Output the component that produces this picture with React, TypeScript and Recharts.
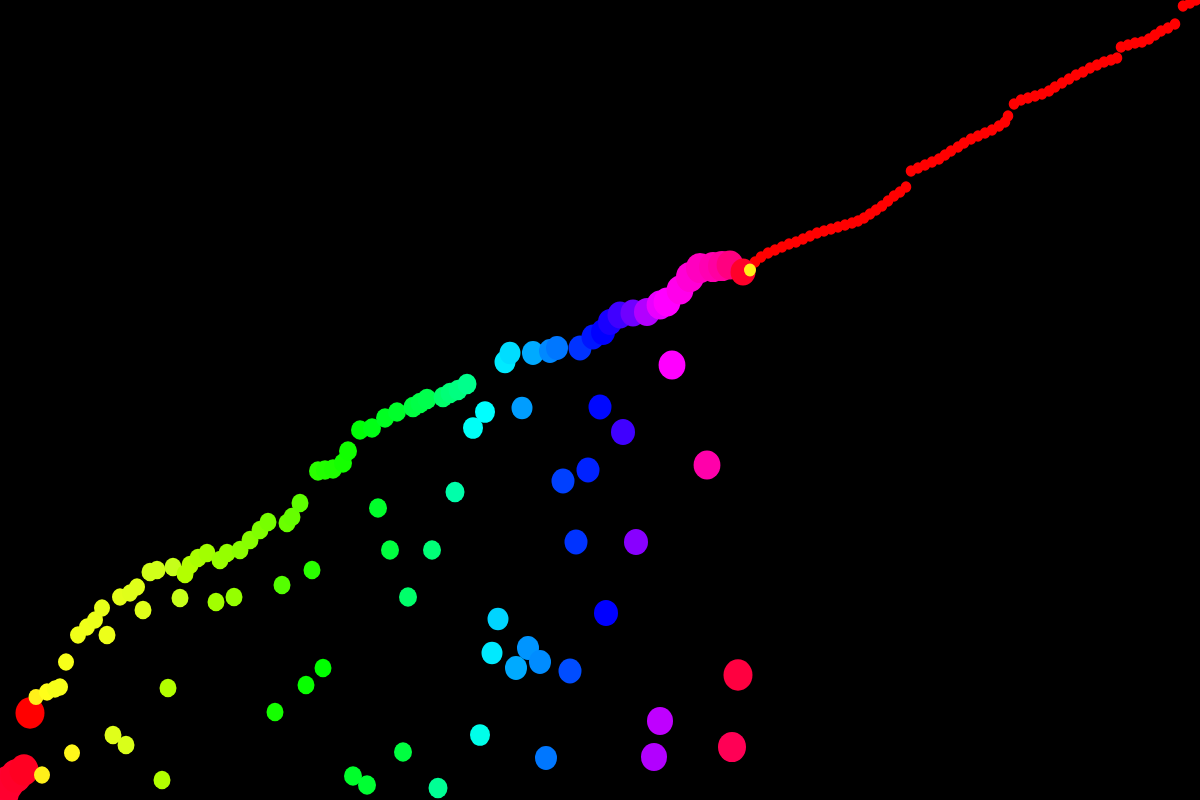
import React from "react";
import { ScatterChart, Scatter, XAxis, YAxis, ZAxis } from "recharts";

type Pt = { x: number; y: number; phase: number; mass: number };

// Scattered points below the main trail
const scatterPoints: Pt[] = [
  { x: 107, y: 635, phase: 65, mass: 72 },
  { x: 143, y: 610, phase: 68, mass: 72 },
  { x: 180, y: 598, phase: 75, mass: 72 },
  { x: 216, y: 602, phase: 82, mass: 72 },
  { x: 234, y: 597, phase: 85, mass: 72 },
  { x: 282, y: 585, phase: 100, mass: 72 },
  { x: 312, y: 570, phase: 110, mass: 72 },
  { x: 378, y: 508, phase: 130, mass: 81 },
  { x: 390, y: 550, phase: 135, mass: 81 },
  { x: 432, y: 550, phase: 148, mass: 81 },
  { x: 408, y: 597, phase: 145, mass: 81 },
  { x: 455, y: 492, phase: 160, mass: 90 },
  { x: 473, y: 428, phase: 178, mass: 100 },
  { x: 485, y: 412, phase: 180, mass: 100 },
  { x: 522, y: 408, phase: 203, mass: 110 },
  { x: 600, y: 407, phase: 238, mass: 132 },
  { x: 623, y: 432, phase: 255, mass: 144 },
  { x: 672, y: 365, phase: 300, mass: 180 },
  { x: 707, y: 465, phase: 320, mass: 180 },
  { x: 563, y: 481, phase: 225, mass: 132 },
  { x: 588, y: 470, phase: 232, mass: 132 },
  { x: 576, y: 542, phase: 228, mass: 132 },
  { x: 636, y: 542, phase: 272, mass: 144 },
  { x: 606, y: 613, phase: 240, mass: 144 },
  { x: 498, y: 619, phase: 190, mass: 110 },
  { x: 492, y: 653, phase: 185, mass: 110 },
  { x: 528, y: 648, phase: 205, mass: 121 },
  { x: 540, y: 662, phase: 207, mass: 121 },
  { x: 516, y: 668, phase: 200, mass: 121 },
  { x: 570, y: 671, phase: 222, mass: 132 },
  { x: 738, y: 675, phase: 345, mass: 210 },
  { x: 660, y: 721, phase: 285, mass: 169 },
  { x: 654, y: 757, phase: 282, mass: 169 },
  { x: 732, y: 747, phase: 340, mass: 196 },
  { x: 480, y: 735, phase: 175, mass: 100 },
  { x: 546, y: 758, phase: 212, mass: 121 },
  { x: 403, y: 752, phase: 135, mass: 81 },
  { x: 438, y: 788, phase: 155, mass: 90 },
  { x: 168, y: 688, phase: 78, mass: 72 },
  { x: 162, y: 780, phase: 78, mass: 72 },
  { x: 113, y: 735, phase: 68, mass: 72 },
  { x: 126, y: 745, phase: 70, mass: 72 },
  { x: 72, y: 753, phase: 58, mass: 64 },
  { x: 275, y: 712, phase: 115, mass: 72 },
  { x: 306, y: 685, phase: 118, mass: 72 },
  { x: 323, y: 668, phase: 120, mass: 72 },
  { x: 353, y: 776, phase: 130, mass: 81 },
  { x: 367, y: 785, phase: 132, mass: 81 },
];

// Large red blobs at the lower left
const redBlobs: Pt[] = [
  { x: 3, y: 793, phase: 348, mass: 256 },
  { x: 8, y: 783, phase: 349, mass: 256 },
  { x: 16, y: 776, phase: 350, mass: 240 },
  { x: 24, y: 770, phase: 352, mass: 210 },
  { x: 30, y: 713, phase: 0, mass: 210 },
  { x: 42, y: 775, phase: 56, mass: 64 },
];

// Main colour trail (yellow -> green -> cyan -> blue -> magenta)
const mainTrail: Pt[] = [
  { x: 36, y: 697, phase: 56, mass: 56 },
  { x: 47, y: 692, phase: 60, mass: 64 },
  { x: 55, y: 689, phase: 62, mass: 64 },
  { x: 60, y: 687, phase: 62, mass: 64 },
  { x: 66, y: 662, phase: 62, mass: 64 },
  { x: 78, y: 635, phase: 64, mass: 64 },
  { x: 87, y: 627, phase: 64, mass: 64 },
  { x: 95, y: 620, phase: 65, mass: 64 },
  { x: 102, y: 608, phase: 66, mass: 64 },
  { x: 120, y: 597, phase: 67, mass: 64 },
  { x: 130, y: 593, phase: 68, mass: 64 },
  { x: 137, y: 587, phase: 68, mass: 64 },
  { x: 150, y: 572, phase: 72, mass: 72 },
  { x: 157, y: 570, phase: 72, mass: 72 },
  { x: 173, y: 567, phase: 75, mass: 72 },
  { x: 185, y: 574, phase: 78, mass: 72 },
  { x: 190, y: 565, phase: 78, mass: 72 },
  { x: 198, y: 558, phase: 80, mass: 72 },
  { x: 207, y: 553, phase: 82, mass: 72 },
  { x: 220, y: 560, phase: 84, mass: 72 },
  { x: 227, y: 553, phase: 85, mass: 72 },
  { x: 240, y: 550, phase: 87, mass: 72 },
  { x: 250, y: 540, phase: 88, mass: 72 },
  { x: 260, y: 530, phase: 90, mass: 72 },
  { x: 268, y: 522, phase: 92, mass: 72 },
  { x: 287, y: 523, phase: 95, mass: 72 },
  { x: 292, y: 517, phase: 96, mass: 72 },
  { x: 300, y: 503, phase: 98, mass: 72 },
  { x: 318, y: 471, phase: 110, mass: 81 },
  { x: 325, y: 470, phase: 112, mass: 81 },
  { x: 333, y: 469, phase: 113, mass: 81 },
  { x: 343, y: 463, phase: 115, mass: 81 },
  { x: 348, y: 451, phase: 116, mass: 81 },
  { x: 360, y: 430, phase: 122, mass: 81 },
  { x: 372, y: 428, phase: 125, mass: 81 },
  { x: 385, y: 418, phase: 128, mass: 81 },
  { x: 397, y: 412, phase: 130, mass: 81 },
  { x: 413, y: 407, phase: 135, mass: 90 },
  { x: 420, y: 403, phase: 137, mass: 90 },
  { x: 427, y: 399, phase: 138, mass: 90 },
  { x: 443, y: 397, phase: 145, mass: 90 },
  { x: 450, y: 393, phase: 148, mass: 90 },
  { x: 458, y: 390, phase: 150, mass: 90 },
  { x: 467, y: 384, phase: 153, mass: 90 },
  { x: 505, y: 362, phase: 185, mass: 110 },
  { x: 510, y: 353, phase: 188, mass: 110 },
  { x: 533, y: 353, phase: 200, mass: 121 },
  { x: 550, y: 351, phase: 208, mass: 121 },
  { x: 557, y: 348, phase: 212, mass: 121 },
  { x: 580, y: 348, phase: 228, mass: 132 },
  { x: 593, y: 337, phase: 235, mass: 132 },
  { x: 603, y: 332, phase: 240, mass: 144 },
  { x: 610, y: 322, phase: 246, mass: 144 },
  { x: 620, y: 315, phase: 255, mass: 156 },
  { x: 633, y: 313, phase: 266, mass: 156 },
  { x: 647, y: 312, phase: 282, mass: 169 },
  { x: 660, y: 305, phase: 295, mass: 180 },
  { x: 667, y: 302, phase: 300, mass: 180 },
  { x: 680, y: 290, phase: 305, mass: 180 },
  { x: 690, y: 277, phase: 310, mass: 196 },
  { x: 700, y: 268, phase: 315, mass: 196 },
  { x: 713, y: 267, phase: 318, mass: 196 },
  { x: 722, y: 266, phase: 322, mass: 196 },
  { x: 730, y: 265, phase: 330, mass: 180 },
  { x: 743, y: 272, phase: 350, mass: 156 },
];

// Thin red tail in the upper right
const redTail: Pt[] = [
  { x: 755, y: 262, phase: 0, mass: 28 },
  { x: 761, y: 257, phase: 0, mass: 28 },
  { x: 768, y: 253, phase: 0, mass: 28 },
  { x: 775, y: 250, phase: 0, mass: 28 },
  { x: 782, y: 247, phase: 0, mass: 28 },
  { x: 789, y: 244, phase: 0, mass: 28 },
  { x: 796, y: 242, phase: 0, mass: 28 },
  { x: 803, y: 239, phase: 0, mass: 28 },
  { x: 810, y: 236, phase: 0, mass: 28 },
  { x: 817, y: 233, phase: 0, mass: 28 },
  { x: 824, y: 231, phase: 0, mass: 28 },
  { x: 831, y: 229, phase: 0, mass: 28 },
  { x: 838, y: 227, phase: 0, mass: 28 },
  { x: 845, y: 225, phase: 0, mass: 28 },
  { x: 852, y: 223, phase: 0, mass: 28 },
  { x: 858, y: 221, phase: 0, mass: 28 },
  { x: 864, y: 218, phase: 0, mass: 28 },
  { x: 870, y: 214, phase: 0, mass: 28 },
  { x: 876, y: 210, phase: 0, mass: 28 },
  { x: 882, y: 206, phase: 0, mass: 28 },
  { x: 888, y: 201, phase: 0, mass: 28 },
  { x: 894, y: 196, phase: 0, mass: 28 },
  { x: 900, y: 192, phase: 0, mass: 28 },
  { x: 906, y: 187, phase: 0, mass: 28 },
  { x: 911, y: 171, phase: 0, mass: 28 },
  { x: 918, y: 168, phase: 0, mass: 28 },
  { x: 925, y: 165, phase: 0, mass: 28 },
  { x: 932, y: 162, phase: 0, mass: 28 },
  { x: 939, y: 159, phase: 0, mass: 28 },
  { x: 945, y: 155, phase: 0, mass: 28 },
  { x: 951, y: 151, phase: 0, mass: 28 },
  { x: 958, y: 147, phase: 0, mass: 28 },
  { x: 964, y: 143, phase: 0, mass: 28 },
  { x: 971, y: 139, phase: 0, mass: 28 },
  { x: 978, y: 136, phase: 0, mass: 28 },
  { x: 985, y: 133, phase: 0, mass: 28 },
  { x: 992, y: 130, phase: 0, mass: 28 },
  { x: 999, y: 126, phase: 0, mass: 28 },
  { x: 1005, y: 122, phase: 0, mass: 28 },
  { x: 1008, y: 116, phase: 0, mass: 28 },
  { x: 1014, y: 104, phase: 0, mass: 28 },
  { x: 1021, y: 100, phase: 0, mass: 28 },
  { x: 1028, y: 98, phase: 0, mass: 28 },
  { x: 1035, y: 96, phase: 0, mass: 28 },
  { x: 1042, y: 94, phase: 0, mass: 28 },
  { x: 1049, y: 91, phase: 0, mass: 28 },
  { x: 1055, y: 87, phase: 0, mass: 28 },
  { x: 1062, y: 83, phase: 0, mass: 28 },
  { x: 1069, y: 79, phase: 0, mass: 28 },
  { x: 1076, y: 75, phase: 0, mass: 28 },
  { x: 1083, y: 72, phase: 0, mass: 28 },
  { x: 1090, y: 68, phase: 0, mass: 28 },
  { x: 1097, y: 65, phase: 0, mass: 28 },
  { x: 1104, y: 62, phase: 0, mass: 28 },
  { x: 1111, y: 60, phase: 0, mass: 28 },
  { x: 1117, y: 58, phase: 0, mass: 28 },
  { x: 1121, y: 47, phase: 0, mass: 28 },
  { x: 1128, y: 45, phase: 0, mass: 28 },
  { x: 1135, y: 43, phase: 0, mass: 28 },
  { x: 1142, y: 42, phase: 0, mass: 28 },
  { x: 1149, y: 39, phase: 0, mass: 28 },
  { x: 1155, y: 35, phase: 0, mass: 28 },
  { x: 1161, y: 31, phase: 0, mass: 28 },
  { x: 1168, y: 28, phase: 0, mass: 28 },
  { x: 1175, y: 24, phase: 0, mass: 28 },
  { x: 1183, y: 6, phase: 0, mass: 28 },
  { x: 1190, y: 3, phase: 0, mass: 28 },
  { x: 1196, y: 0, phase: 0, mass: 28 },
];

// Small yellow marker at the head of the tail
const headMarker: Pt[] = [{ x: 750, y: 270, phase: 56, mass: 36 }];

const colorOf = (phase: number) => {
  const light = phase >= 45 && phase <= 75 ? 55 : 50;
  return `hsl(${phase}, 100%, ${light}%)`;
};

const Dot = (props: any) => {
  const { cx, cy, payload } = props;
  if (cx == null || cy == null) return null;
  let r = 0;
  if (typeof props.width === "number" && props.width > 0) r = props.width / 2;
  else if (typeof props.size === "number") r = Math.sqrt(props.size / Math.PI);
  else r = Math.sqrt(payload.mass);
  return (
    <ellipse
      cx={cx}
      cy={cy}
      rx={r}
      ry={r * 1.08}
      fill={colorOf(payload.phase)}
    />
  );
};

export default function App() {
  return (
    <div
      style={{
        position: "fixed",
        left: 0,
        top: 0,
        width: 1200,
        height: 800,
        background: "#000",
        overflow: "hidden",
      }}
    >
      <ScatterChart
        width={1200}
        height={800}
        margin={{ top: 0, right: 0, bottom: 0, left: 0 }}
        style={{ background: "#000" }}
      >
        <XAxis type="number" dataKey="x" domain={[0, 1200]} hide allowDataOverflow />
        <YAxis type="number" dataKey="y" domain={[0, 800]} reversed hide allowDataOverflow />
        <ZAxis type="number" dataKey="mass" domain={[0, 256]} range={[0, 256 * Math.PI]} />
        <Scatter data={scatterPoints} shape={Dot} isAnimationActive={false} />
        <Scatter data={redBlobs} shape={Dot} isAnimationActive={false} />
        <Scatter data={redTail} shape={Dot} isAnimationActive={false} />
        <Scatter data={mainTrail} shape={Dot} isAnimationActive={false} />
        <Scatter data={headMarker} shape={Dot} isAnimationActive={false} />
      </ScatterChart>
    </div>
  );
}
